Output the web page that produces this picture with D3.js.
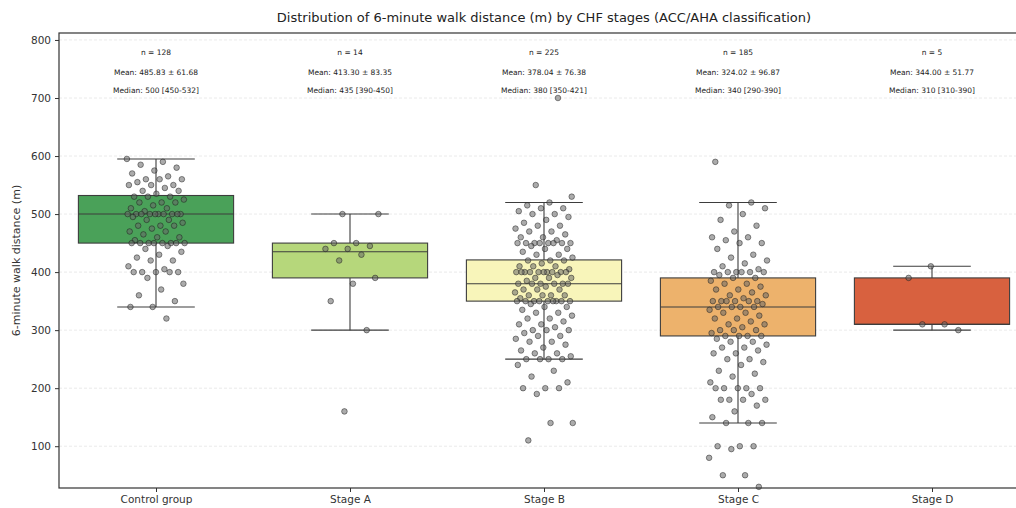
<!DOCTYPE html>
<html><head><meta charset="utf-8">
<script src="https://cdn.jsdelivr.net/npm/d3@7"></script>
<style>body{margin:0;background:#fff;} svg{display:block;font-family:"DejaVu Sans",sans-serif;}</style>
</head><body><svg id="c" width="1016" height="508"></svg>
<script>
const categories = ["Control group","Stage A","Stage B","Stage C","Stage D"];
const colors = ["#4aa159","#b6d77b","#f8f5ba","#edb26c","#d8613f"];
const q1 = [450, 390, 350, 290, 310];
const median = [500, 435, 380, 340, 310];
const q3 = [532, 450, 421, 390, 390];
const whiskerLow = [340, 300, 250, 140, 300];
const whiskerHigh = [595, 500, 520, 520, 410];
const nLabels = ["n = 128","n = 14","n = 225","n = 185","n = 5"];
const meanLabels = ["Mean: 485.83 ± 61.68","Mean: 413.30 ± 83.35","Mean: 378.04 ± 76.38","Mean: 324.02 ± 96.87","Mean: 344.00 ± 51.77"];
const medianLabels = ["Median: 500 [450-532]","Median: 435 [390-450]","Median: 380 [350-421]","Median: 340 [290-390]","Median: 310 [310-390]"];
const yTicks = [100,200,300,400,500,600,700,800];

const controlPts = [595,590,585,580,575,570,565,560,560,560,555,550,550,550,545,540,540,535,530,530,530,525,520,520,520,515,510,510,505,500,500,500,500,500,500,500,500,500,500,495,490,490,485,480,480,480,475,470,470,465,460,460,455,450,450,450,450,450,450,450,450,445,440,435,430,425,420,420,410,405,400,400,400,400,400,390,380,370,360,350,340,340,320];
const stageAPts = [500,500,450,450,445,440,440,430,420,390,380,350,300,160];
const stageBPts = [700,550,530,520,515,510,510,505,500,500,495,490,485,480,480,475,470,470,465,460,460,455,450,450,450,450,450,450,450,450,445,440,440,435,430,430,425,420,420,420,415,410,410,410,405,400,400,400,400,400,400,400,400,400,400,395,390,390,390,385,380,380,380,380,380,380,375,370,370,370,365,360,360,360,360,355,350,350,350,350,350,350,350,350,350,345,340,340,335,330,330,325,320,320,315,310,310,305,300,300,300,295,290,290,285,280,280,275,270,265,260,260,255,250,250,250,250,240,230,220,210,200,200,200,190,140,140,110];
const stageCPts = [590,520,515,510,500,490,480,470,460,460,455,450,450,440,430,425,420,415,410,405,400,400,400,400,400,400,395,390,390,385,380,380,375,370,370,365,360,360,355,350,350,350,350,350,350,345,340,340,340,340,335,330,330,325,320,320,315,310,310,305,300,300,300,295,290,290,290,290,285,280,280,275,270,270,265,260,260,250,250,245,240,230,225,220,210,200,200,200,200,200,190,180,180,180,180,170,160,150,140,140,140,100,100,100,95,80,50,50,30];
const stageDPts = [410,390,310,310,300];
const points = [controlPts, stageAPts, stageBPts, stageCPts, stageDPts];

const svg = d3.select("#c");
const L = 59, R = 1029, T = 33, B = 488;
const x = d3.scalePoint().domain(categories).range([L, R]).padding(0.5);
const step = x.step();
const y = d3.scaleLinear().domain([28, 812]).range([B, T]);
const boxW = step * 0.8;

// grid
svg.append("g").selectAll("line").data(yTicks).join("line")
  .attr("x1", L).attr("x2", R).attr("y1", d => y(d)).attr("y2", d => y(d))
  .attr("stroke", "#e4e4e4").attr("stroke-width", 0.8).attr("stroke-dasharray", "3,2");

// boxes
const g = svg.append("g");
categories.forEach((c, i) => {
  const cx = x(c);
  g.append("line").attr("x1", cx).attr("x2", cx).attr("y1", y(whiskerLow[i])).attr("y2", y(q1[i])).attr("stroke", "#3d3d3d").attr("stroke-width", 1.1);
  g.append("line").attr("x1", cx).attr("x2", cx).attr("y1", y(q3[i])).attr("y2", y(whiskerHigh[i])).attr("stroke", "#3d3d3d").attr("stroke-width", 1.1);
  [whiskerLow[i], whiskerHigh[i]].forEach(v => {
    g.append("line").attr("x1", cx - boxW/4).attr("x2", cx + boxW/4).attr("y1", y(v)).attr("y2", y(v)).attr("stroke", "#3d3d3d").attr("stroke-width", 1.1);
  });
  g.append("rect").attr("x", cx - boxW/2).attr("width", boxW).attr("y", y(q3[i])).attr("height", y(q1[i]) - y(q3[i]))
    .attr("fill", colors[i]).attr("stroke", "#3d3d3d").attr("stroke-width", 1.1);
  g.append("line").attr("x1", cx - boxW/2).attr("x2", cx + boxW/2).attr("y1", y(median[i])).attr("y2", y(median[i])).attr("stroke", "#3d3d3d").attr("stroke-width", 1.1);
});

// points (deterministic jitter)
const pg = svg.append("g");
points.forEach((arr, i) => {
  const cx = x(categories[i]);
  pg.selectAll(null).data(arr).join("circle")
    .attr("cx", (d, k) => cx + (((k * 0.6180339 + i * 0.37) % 1) - 0.5) * step * 0.3)
    .attr("cy", d => y(d))
    .attr("r", 2.8)
    .attr("fill", "#666").attr("fill-opacity", 0.55)
    .attr("stroke", "#111").attr("stroke-opacity", 0.75).attr("stroke-width", 0.6);
});

// annotations
categories.forEach((c, i) => {
  const cx = x(c);
  const a = svg.append("g").attr("font-size", 7.5).attr("fill", "#222").attr("text-anchor", "middle");
  a.append("text").attr("x", cx).attr("y", 55).text(nLabels[i]);
  a.append("text").attr("x", cx).attr("y", 75).text(meanLabels[i]);
  a.append("text").attr("x", cx).attr("y", 93).text(medianLabels[i]);
});

// frame
svg.append("rect").attr("x", L).attr("y", T).attr("width", R - L).attr("height", B - T)
  .attr("fill", "none").attr("stroke", "#333").attr("stroke-width", 1.2);

// y axis
const ya = svg.append("g").attr("transform", `translate(${L},0)`)
  .call(d3.axisLeft(y).tickValues(yTicks).tickSize(4).tickPadding(4));
ya.select(".domain").remove();
ya.selectAll("text").attr("font-size", 10.5).attr("fill", "#333").attr("font-family", "DejaVu Sans");
ya.selectAll("line").attr("stroke", "#333");

// x axis
const xa = svg.append("g").attr("transform", `translate(0,${B})`)
  .call(d3.axisBottom(x).tickSize(4).tickPadding(4));
xa.select(".domain").remove();
xa.selectAll("text").attr("font-size", 10.5).attr("fill", "#333").attr("font-family", "DejaVu Sans");
xa.selectAll("line").attr("stroke", "#333");

// title and labels
svg.append("text").attr("x", (L + R) / 2).attr("y", 22).attr("text-anchor", "middle")
  .attr("font-size", 13).attr("fill", "#222").text("Distribution of 6-minute walk distance (m) by CHF stages (ACC/AHA classification)");
svg.append("text").attr("transform", `translate(20,${(T + B) / 2}) rotate(-90)`).attr("text-anchor", "middle")
  .attr("font-size", 11).attr("fill", "#333").text("6-minute walk distance (m)");
</script></body></html>
